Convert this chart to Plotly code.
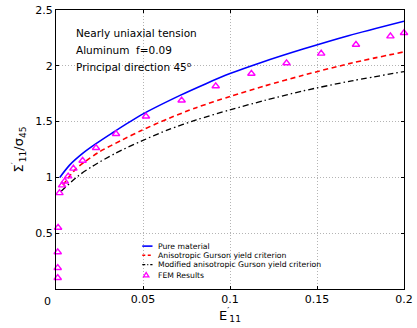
import plotly.graph_objects as go

# ---- data -----------------------------------------------------------------
strain_pure = [0.0022, 0.0078, 0.0153, 0.0228, 0.032, 0.049, 0.0713, 0.0862,
               0.1, 0.118, 0.142, 0.168, 0.2]
stress_pure = [1.00, 1.11, 1.215, 1.30, 1.395, 1.56, 1.735, 1.84,
               1.93, 2.03, 2.15, 2.27, 2.40]

strain_aniso = [0.004, 0.011, 0.017, 0.025, 0.038, 0.049, 0.065, 0.0806,
                0.1, 0.12, 0.142, 0.17, 0.2]
stress_aniso = [0.93, 1.07, 1.145, 1.23, 1.335, 1.42, 1.53, 1.625,
                1.725, 1.82, 1.915, 2.025, 2.125]

strain_mod = [0.003, 0.0125, 0.021, 0.034, 0.049, 0.065, 0.0806,
              0.1, 0.12, 0.142, 0.17, 0.2]
stress_mod = [0.876, 1.01, 1.10, 1.215, 1.325, 1.43, 1.515,
              1.605, 1.69, 1.775, 1.865, 1.948]

strain_fem = [0.001, 0.001, 0.001, 0.0012, 0.002, 0.0035, 0.005, 0.007, 0.010,
              0.0153, 0.023, 0.0345, 0.0517, 0.0722, 0.0918, 0.1123, 0.1325,
              0.1524, 0.1724, 0.1922, 0.2]
stress_fem = [0.10, 0.19, 0.33, 0.55, 0.86, 0.93, 0.965, 1.01, 1.08,
              1.15, 1.265, 1.39, 1.547, 1.69, 1.818, 1.93, 2.024,
              2.11, 2.19, 2.265, 2.295]

x_ticks = [0, 0.05, 0.1, 0.15, 0.2]
x_ticktext = ["", "0.05", "0.1", "0.15", "0.2"]
y_ticks = [0.5, 1, 1.5, 2, 2.5]
y_ticktext = ["0.5", "1", "1.5", "2", "2.5"]

legend_labels = ["Pure material",
                 "Anisotropic Gurson yield criterion",
                 "Modified anisotropic Gurson yield criterion",
                 "FEM Results"]

# ---- geometry helpers (pixel -> paper coordinates) --------------------------
W, H = 417, 328
L, R, T, B = 56, 413, 6, 289
XR = (0, 0.2)
YR = (0, 2.5)


def px(p):
    return (p - L) / (R - L)


def py(p):
    return (B - p) / (B - T)


FONT = "DejaVu Sans"
BLUE, RED, BLACK, MAGENTA = "#0000ff", "#ff0000", "#000000", "#ff00ff"
DASH_RED = "5px,3.5px"
DASH_BLACK = "6px,3px,1.5px,3px"

fig = go.Figure()
fig.add_trace(go.Scatter(x=strain_pure, y=stress_pure, mode="lines",
                         line=dict(color=BLUE, width=1.6, shape="spline", smoothing=0.8),
                         showlegend=False))
fig.add_trace(go.Scatter(x=strain_aniso, y=stress_aniso, mode="lines",
                         line=dict(color=RED, width=1.6, dash=DASH_RED, shape="spline", smoothing=0.8),
                         showlegend=False))
fig.add_trace(go.Scatter(x=strain_mod, y=stress_mod, mode="lines",
                         line=dict(color=BLACK, width=1.3, dash=DASH_BLACK, shape="spline", smoothing=0.8),
                         showlegend=False))
fig.add_trace(go.Scatter(x=strain_fem, y=stress_fem, mode="markers",
                         marker=dict(symbol="triangle-up-open", size=6.5, color=MAGENTA,
                                     line=dict(width=1.4, color=MAGENTA)),
                         cliponaxis=False, showlegend=False))

annotations = []
shapes = []

# text block in the upper left
for txt, x, y in [("Nearly uniaxial tension", 74, 29.5),
                  ("Aluminum", 74, 46.7),
                  ("f=0.09", 136, 46.7),
                  ("Principal direction 45<sup>o</sup>", 74, 63.5)]:
    annotations.append(dict(x=px(x), y=py(y), xref="paper", yref="paper", text=txt,
                            showarrow=False, xanchor="left", yanchor="middle",
                            font=dict(family=FONT, size=10.5, color="black")))

# legend drawn inside the axes
rows = [245.5, 254.8, 264.2, 274.8]
for label, y in zip(legend_labels, rows):
    annotations.append(dict(x=px(159), y=py(y), xref="paper", yref="paper", text=label,
                            showarrow=False, xanchor="left", yanchor="middle",
                            font=dict(family=FONT, size=7.7, color="black")))
for (color, width, dash), y in zip([(BLUE, 1.6, "solid"), (RED, 1.6, "3px,2.5px"),
                                    (BLACK, 1.3, "3px,2px,1px,2px")], rows[:3]):
    shapes.append(dict(type="line", xref="paper", yref="paper",
                       x0=px(144.5), x1=px(155), y0=py(y), y1=py(y),
                       line=dict(color=color, width=width, dash=dash)))
cx, cy = 148.5, rows[3]
shapes.append(dict(type="path", xref="paper", yref="paper",
                   path=(f"M {px(cx - 2.8)},{py(cy + 2.0)} L {px(cx + 2.8)},{py(cy + 2.0)} "
                         f"L {px(cx)},{py(cy - 2.6)} Z"),
                   line=dict(color=MAGENTA, width=1.3)))

# origin label on the x axis
annotations.append(dict(x=px(47), y=py(301.5), xref="paper", yref="paper", text="0",
                        showarrow=False, xanchor="center", yanchor="middle",
                        font=dict(family=FONT, size=11, color="black")))

axis_common = dict(showline=True, linecolor="black", linewidth=1.2, mirror="ticks",
                   ticks="inside", ticklen=3, tickcolor="black", tickwidth=1,
                   showgrid=True, gridcolor="#b4b4b4", gridwidth=1, griddash="1px,2px",
                   zeroline=False, ticklabeloverflow="allow",
                   tickfont=dict(family=FONT, size=11, color="black"))

fig.update_layout(
    width=W, height=H,
    margin=dict(l=L, r=W - R, t=T, b=H - B),
    paper_bgcolor="white", plot_bgcolor="white",
    xaxis=dict(range=list(XR), tickvals=x_ticks, ticktext=x_ticktext,
               title=dict(text="E<sup>′</sup><sub>11</sub>", standoff=0,
                          font=dict(family=FONT, size=13, color="black")),
               **axis_common),
    yaxis=dict(range=list(YR), tickvals=y_ticks, ticktext=y_ticktext,
               title=dict(text="Σ<sup>′</sup><sub>11</sub>/σ<sub>45</sub>", standoff=8,
                          font=dict(family=FONT, size=13, color="black")),
               **axis_common),
    annotations=annotations,
    shapes=shapes,
    showlegend=False,
)

fig.write_html("out.html")
